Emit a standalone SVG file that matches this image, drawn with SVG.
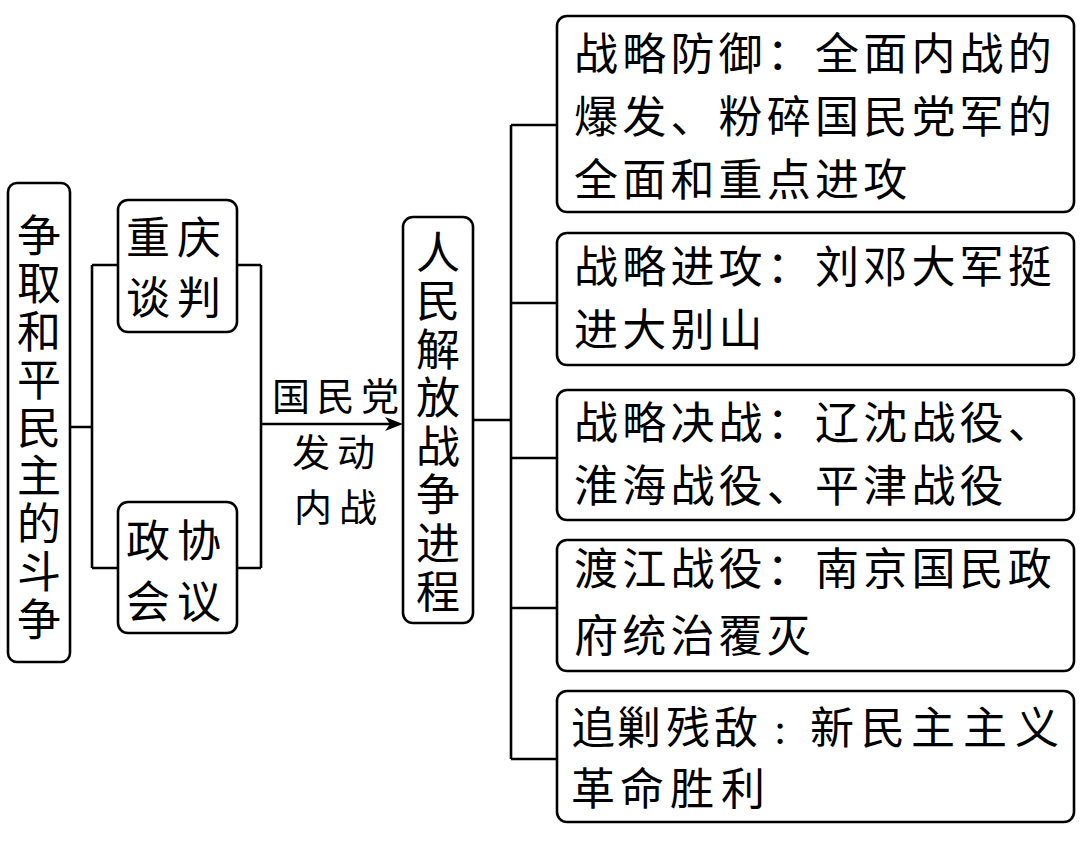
<svg xmlns="http://www.w3.org/2000/svg" width="1080" height="843" viewBox="0 0 1080 843">
<style>
.box{fill:#fff;stroke:#000;stroke-width:2.6}
.ln{fill:none;stroke:#000;stroke-width:2.6}
.t{font-family:"Liberation Serif","Noto Sans CJK SC",serif;font-size:44px;fill:#000}
.tm{text-anchor:middle}
.r{letter-spacing:4.2px}
.lab{font-family:"Liberation Serif","Noto Sans CJK SC",serif;font-size:38px;fill:#000}
</style>
<rect width="1080" height="843" fill="#fff"/>
<g id="connectors">
<path class="ln" d="M70,427H92M92,265V568M92,265H118M92,568H118"/>
<path class="ln" d="M237,265H261M237,568H261M261,265V568M261,424H392"/>
<path d="M403,424L385,417L390,424L385,431Z" fill="#000"/>
<path class="ln" d="M473,420H511M511,125V759M511,125H557M511,303H557M511,458H557M511,608H557M511,759H557"/>
</g>
<g id="node-struggle">
<rect class="box" x="8" y="183" width="62" height="479" rx="9"/>
<text class="t tm"><tspan x="39" y="251.5">争</tspan><tspan x="39" y="299.6">取</tspan><tspan x="39" y="347.7">和</tspan><tspan x="39" y="395.8">平</tspan><tspan x="39" y="443.9">民</tspan><tspan x="39" y="492">主</tspan><tspan x="39" y="540.1">的</tspan><tspan x="39" y="588.2">斗</tspan><tspan x="39" y="636.3">争</tspan></text>
</g>
<g id="node-chongqing">
<rect class="box" x="118" y="200" width="119" height="132" rx="10"/>
<text class="t" x="126" y="253.5" letter-spacing="7">重庆</text>
<text class="t" x="126" y="313.5" letter-spacing="7">谈判</text>
</g>
<g id="node-zhengxie">
<rect class="box" x="118" y="502" width="119" height="131" rx="10"/>
<text class="t" x="126" y="556.5" letter-spacing="7">政协</text>
<text class="t" x="126" y="617.5" letter-spacing="7">会议</text>
</g>
<g id="label-civilwar">
<text class="lab" x="272" y="409.5" letter-spacing="6.5">国民党</text>
<text class="lab" x="292" y="465.5" letter-spacing="7">发动</text>
<text class="lab" x="294" y="520.5" letter-spacing="7">内战</text>
</g>
<g id="node-pla">
<rect class="box" x="403" y="217" width="70" height="406" rx="10"/>
<text class="t tm"><tspan x="438" y="268.5">人</tspan><tspan x="438" y="317">民</tspan><tspan x="438" y="365.5">解</tspan><tspan x="438" y="414">放</tspan><tspan x="438" y="462.5">战</tspan><tspan x="438" y="511">争</tspan><tspan x="438" y="559.5">进</tspan><tspan x="438" y="608">程</tspan></text>
</g>
<g id="node-defense">
<rect class="box" x="557" y="16" width="517" height="196" rx="10"/>
<text class="t r" x="574" y="69.5">战略防御：全面内战的</text>
<text class="t r" x="574" y="132.5">爆发、粉碎国民党军的</text>
<text class="t r" x="574" y="195.5">全面和重点进攻</text>
</g>
<g id="node-offense">
<rect class="box" x="557" y="233" width="517" height="132" rx="10"/>
<text class="t r" x="574" y="282.5">战略进攻：刘邓大军挺</text>
<text class="t r" x="574" y="345.5">进大别山</text>
</g>
<g id="node-decisive">
<rect class="box" x="557" y="390" width="517" height="130" rx="10"/>
<text class="t r" x="574" y="438.5">战略决战：辽沈战役、</text>
<text class="t r" x="574" y="501.5">淮海战役、平津战役</text>
</g>
<g id="node-crossing">
<rect class="box" x="557" y="540" width="517" height="131" rx="10"/>
<text class="t r" x="574" y="584.5">渡江战役：南京国民政</text>
<text class="t r" x="574" y="651.5">府统治覆灭</text>
</g>
<g id="node-pursuit">
<rect class="box" x="557" y="691" width="517" height="131" rx="10"/>
<text class="t" x="571 617 666 714 774 810 861 911 963 1015" y="743.5">追剿残敌:新民主主义</text>
<text class="t" x="571 620 670 721" y="804.5">革命胜利</text>
</g>
</svg>
